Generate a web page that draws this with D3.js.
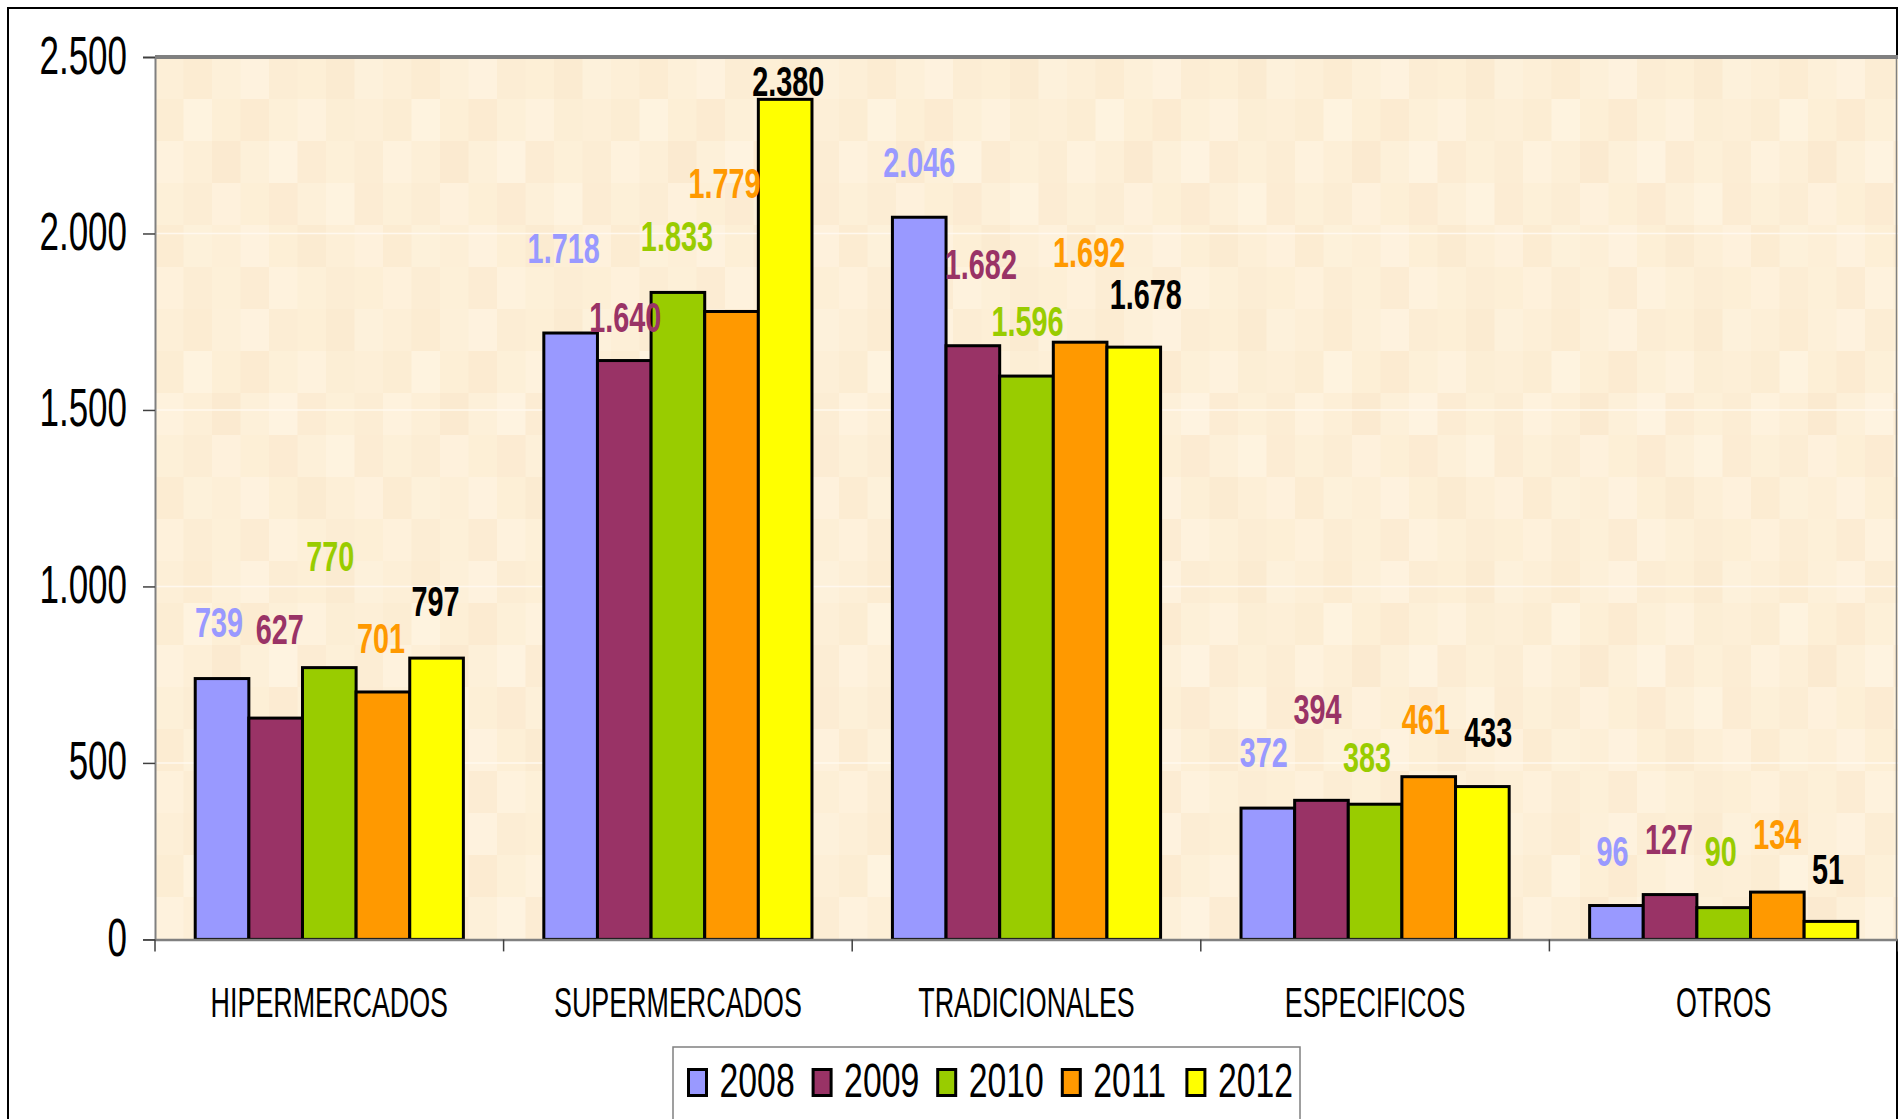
<!DOCTYPE html>
<html>
<head>
<meta charset="utf-8">
<script src="https://cdn.jsdelivr.net/npm/d3@7"></script>
<style>
  html, body { margin: 0; padding: 0; background: #fff; }
  svg { display: block; }
  text { font-family: "Liberation Sans", Arial, sans-serif; }
</style>
</head>
<body>
<svg id="chart" width="1898" height="1119"></svg>
<script>
// ---- data ----
const categories = ["HIPERMERCADOS", "SUPERMERCADOS", "TRADICIONALES", "ESPECIFICOS", "OTROS"];
const years = ["2008", "2009", "2010", "2011", "2012"];
const values2008 = [739, 1718, 2046, 372, 96];
const values2009 = [627, 1640, 1682, 394, 127];
const values2010 = [770, 1833, 1596, 383, 90];
const values2011 = [701, 1779, 1692, 461, 134];
const values2012 = [797, 2380, 1678, 433, 51];
const yTickValues = [0, 500, 1000, 1500, 2000, 2500];

// ---- styles / layout ----
const barColors = ["#9999FF", "#993366", "#99CC00", "#FF9900", "#FFFF00"];
const labelColors = ["#9999FF", "#993366", "#99CC00", "#FF9900", "#000000"];
// manually placed data labels: offset of label centre from bar top centre (px)
const labelDx = [
  [-3, 4, 1, -2, -1],
  [-7, 1, -1, -7, 3],
  [0, 8, 1, 9, 12],
  [-4, -4, -8, -3, 6],
  [-4, -1, -3, 0, -3]
];
const labelDy = [
  [-57, -89, -112, -54, -57],
  [-85, -44, -57, -129, -19],
  [-56, -82, -55, -91, -54],
  [-56, -92, -48, -58, -55],
  [-55, -56, -57, -58, -53]
];
// parchment texture tile (shades of the plot background)
const textureShades = [
  ["#FDEFD7", "#FCECD2", "#FDF0D9", "#FEF2DE", "#FCEDD4", "#FDEFD6", "#FBEBD1", "#FDF1DB"],
  ["#FCEDD3", "#FEF3DF", "#FDEFD6", "#FCEBD1", "#FDF0D8", "#FEF2DD", "#FCEED5", "#FDEFD7"],
  ["#FEF2DD", "#FDEFD7", "#FBEAD0", "#FDF0D9", "#FEF3E0", "#FCECD3", "#FDF0D8", "#FCEDD4"],
  ["#FDF0D8", "#FCEDD4", "#FEF1DC", "#FDEFD6", "#FCEBD2", "#FDF0D9", "#FEF3DF", "#FCECD3"],
  ["#FCECD2", "#FDF1DA", "#FDEFD7", "#FEF2DE", "#FDEFD6", "#FBEBD1", "#FDEFD7", "#FEF1DC"],
  ["#FEF1DB", "#FCEDD4", "#FDF0D8", "#FCECD3", "#FEF2DD", "#FDF0D8", "#FCEDD4", "#FDEFD6"]
];

const series = [values2008, values2009, values2010, values2011, values2012];
const locale = d3.formatLocale({ decimal: ",", thousands: ".", grouping: [3], currency: ["", ""] });
const fmt = locale.format(",d");

const plot = { left: 155, right: 1898, top: 57, bottom: 939.4 };

const svg = d3.select("#chart");

// texture pattern
const cellW = 28.5, cellH = 42;
const pat = svg.append("defs").append("pattern")
  .attr("id", "parchment")
  .attr("patternUnits", "userSpaceOnUse")
  .attr("x", plot.left).attr("y", plot.top)
  .attr("width", cellW * 8).attr("height", cellH * 6);
textureShades.forEach((row, r) => row.forEach((c, k) => {
  pat.append("rect")
    .attr("x", k * cellW).attr("y", r * cellH)
    .attr("width", cellW + 0.5).attr("height", cellH + 0.5)
    .attr("fill", c);
}));

// outer frame
svg.append("rect")
  .attr("x", 8).attr("y", 8).attr("width", 1889).attr("height", 1130)
  .attr("fill", "#fff").attr("stroke", "#000").attr("stroke-width", 2);

// scales
const x0 = d3.scaleBand().domain(categories).range([plot.left, plot.right]).paddingInner(0).paddingOuter(0);
const x1 = d3.scaleBand().domain(years).range([0, x0.bandwidth()]).paddingInner(0).paddingOuter(0.75);
const y = d3.scaleLinear().domain([0, 2500]).range([plot.bottom, plot.top]);

// plot background
svg.append("rect")
  .attr("x", plot.left).attr("y", plot.top)
  .attr("width", plot.right - plot.left).attr("height", plot.bottom - plot.top)
  .attr("fill", "url(#parchment)");

// gridlines
svg.append("g").selectAll("line")
  .data(yTickValues.filter(v => v > 0 && v < 2500))
  .join("line")
  .attr("x1", plot.left).attr("x2", plot.right)
  .attr("y1", d => y(d)).attr("y2", d => y(d))
  .attr("stroke", "#FFF8EE").attr("stroke-width", 1.5);

// top border + right border
svg.append("line")
  .attr("x1", plot.left).attr("x2", plot.right)
  .attr("y1", plot.top).attr("y2", plot.top)
  .attr("stroke", "#808080").attr("stroke-width", 4);
svg.append("line")
  .attr("x1", 1896.5).attr("x2", 1896.5)
  .attr("y1", plot.top).attr("y2", plot.bottom)
  .attr("stroke", "#808080").attr("stroke-width", 1.5);

// bars
const groups = svg.append("g").selectAll("g")
  .data(categories)
  .join("g")
  .attr("transform", c => `translate(${x0(c)},0)`);

const cellData = (c, ci) => years.map((yr, si) => ({ yr, si, ci, v: series[si][ci] }));

groups.selectAll("rect")
  .data(cellData)
  .join("rect")
  .attr("x", d => x1(d.yr))
  .attr("y", d => y(d.v))
  .attr("width", x1.bandwidth())
  .attr("height", d => y(0) - y(d.v))
  .attr("fill", d => barColors[d.si])
  .attr("stroke", "#000")
  .attr("stroke-width", 3);

// data labels
const labelSize = 43, labelSX = 0.67;
groups.selectAll("text.lbl")
  .data(cellData)
  .join("text")
  .attr("class", "lbl")
  .attr("transform", d => {
    const cx = x1(d.yr) + x1.bandwidth() / 2 + labelDx[d.ci][d.si];
    const cy = y(d.v) + labelDy[d.ci][d.si] + labelSize * 0.358;
    return `translate(${cx},${cy}) scale(${labelSX},1)`;
  })
  .attr("text-anchor", "middle")
  .attr("font-size", labelSize)
  .attr("font-weight", "bold")
  .attr("fill", d => labelColors[d.si])
  .text(d => fmt(d.v));

// y axis
const yAxisG = svg.append("g")
  .attr("transform", `translate(${plot.left},0)`)
  .call(d3.axisLeft(y).tickValues(yTickValues).tickSize(12).tickPadding(0).tickFormat(fmt));
yAxisG.select(".domain").attr("stroke", "#808080").attr("stroke-width", 2);
yAxisG.selectAll(".tick line").attr("stroke", "#404040").attr("stroke-width", 1.5);
const tickSX = 0.66;
yAxisG.selectAll(".tick text")
  .attr("font-size", 53)
  .attr("fill", "#000")
  .attr("font-family", "Liberation Sans, Arial, sans-serif")
  .attr("dy", null)
  .attr("x", -28 / tickSX)
  .attr("y", 16)
  .attr("transform", `scale(${tickSX},1)`);

// x axis (labels)
const xAxisG = svg.append("g")
  .attr("transform", `translate(0,${plot.bottom})`)
  .call(d3.axisBottom(x0).tickSize(0).tickPadding(0));
xAxisG.select(".domain").attr("stroke", "#808080").attr("stroke-width", 2.5);
const catSX = 0.64;
xAxisG.selectAll(".tick text")
  .attr("font-size", 42)
  .attr("fill", "#000")
  .attr("font-family", "Liberation Sans, Arial, sans-serif")
  .attr("dy", null)
  .attr("y", 77.5)
  .attr("transform", `scale(${catSX},1)`);
// category boundary ticks
xAxisG.append("g").selectAll("line")
  .data(categories.map(c => x0(c)).concat([plot.right]))
  .join("line")
  .attr("x1", d => d).attr("x2", d => d)
  .attr("y1", 0).attr("y2", 12)
  .attr("stroke", "#404040").attr("stroke-width", 1.5);

// legend
const legend = svg.append("g");
legend.append("rect")
  .attr("x", 673).attr("y", 1047).attr("width", 627).attr("height", 100)
  .attr("fill", "#fff").attr("stroke", "#808080").attr("stroke-width", 1.5);
const legItems = legend.selectAll("g.item")
  .data(years)
  .join("g")
  .attr("class", "item")
  .attr("transform", (d, i) => `translate(${688.5 + i * 124.6},0)`);
legItems.append("rect")
  .attr("x", 0).attr("y", 1069.5).attr("width", 18).attr("height", 26)
  .attr("fill", (d, i) => barColors[i])
  .attr("stroke", "#000").attr("stroke-width", 3);
const legSX = 0.69;
legItems.append("text")
  .attr("transform", `translate(31,1097) scale(${legSX},1)`)
  .attr("font-size", 49)
  .attr("fill", "#000")
  .text(d => d);
</script>
</body>
</html>
